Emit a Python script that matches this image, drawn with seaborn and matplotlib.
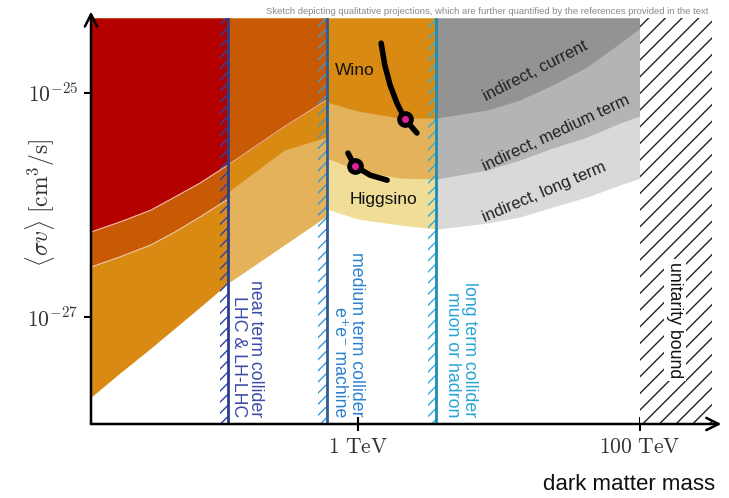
import numpy as np
import pandas as pd
import seaborn as sns
import matplotlib.pyplot as plt

# dark matter mass grid (TeV) for the pieces of the sketch
m_left = [0.0128, 0.0205, 0.034, 0.0504, 0.076, 0.12]
m_mid = [0.12, 0.3, 0.6]
m_ind = [0.6, 1.0, 2.0, 3.6, 8.2, 14, 24, 42, 72, 100]

# <sigma v> boundaries (cm^3/s) left of the near term collider line
left_a = [5.74e-27, 7.05e-27, 9.0e-27, 1.18e-26, 1.57e-26, 2.28e-26]
left_c = [2.79e-27, 3.44e-27, 4.40e-27, 5.74e-27, 7.82e-27, 1.13e-26]
left_d = [1.93e-28, 3.16e-28, 5.28e-28, 7.98e-28, 1.23e-27, 2.01e-27]

# between near term and medium term collider lines
mid_a = [2.28e-26, 5.0e-26, 8.66e-26]
mid_b = [1.31e-26, 3.10e-26, 4.05e-26]
mid_d = [2.01e-27, 4.40e-27, 7.98e-27]

# indirect detection reach
ind_current = [8.31e-26, 6.91e-26, 5.98e-26, 5.98e-26, 7.05e-26, 8.66e-26, 1.18e-25, 1.71e-25, 2.79e-25, 3.80e-25]
ind_medium = [2.63e-26, 2.05e-26, 1.74e-26, 1.71e-26, 2.05e-26, 2.52e-26, 3.23e-26, 4.05e-26, 5.40e-26, 6.24e-26]
ind_long = [9.20e-27, 7.50e-27, 6.63e-27, 6.10e-27, 6.90e-27, 7.82e-27, 9.59e-27, 1.18e-26, 1.51e-26, 1.74e-26]

# wino / higgsino thermal lines
wino_m = [1.46, 1.55, 1.69, 1.89, 2.15, 2.62]
wino_sv = [2.79e-25, 1.78e-25, 1.18e-25, 8.14e-26, 5.86e-26, 4.40e-26]
higgsino_m = [0.85, 0.95, 1.22, 1.61]
higgsino_sv = [2.91e-26, 2.23e-26, 1.85e-26, 1.67e-26]
wino_dot = (2.15, 5.86e-26)
higgsino_dot = (0.95, 2.23e-26)

colliders = [0.12, 0.6, 3.6]
collider_labels = ['near term collider\nLHC & LH-LHC',
                   'medium term collider\ne\u207ae\u207b machine',
                   'long term collider\nmuon or hadron']
unitarity = 100

sns.set_style('white')
plt.rcParams['font.family'] = ['Liberation Sans', 'DejaVu Sans']
plt.rcParams['mathtext.fontset'] = 'cm'
plt.rcParams['hatch.linewidth'] = 1.0

xlo, xhi = 0.0128, 324
ylo, yhi = 1.11e-28, 4.68e-25

fig = plt.figure(figsize=(7.29, 4.98), dpi=100)
ax = fig.add_axes([91/729, 1 - 424/498, 621/729, 406/498])
ax.set_xscale('log')
ax.set_yscale('log')
ax.set_xlim(xlo, xhi)
ax.set_ylim(ylo, yhi)

red, dorange, orange, tan, pale = '#b50000', '#c95a05', '#d98a12', '#e3b25a', '#efdd98'
g1, g2, g3 = '#939393', '#b4b4b4', '#d9d9d9'

# left of near term line
ax.fill_between(m_left, left_d, yhi, color=orange, lw=0)
ax.fill_between(m_left, left_c, yhi, color=dorange, lw=0)
ax.fill_between(m_left, left_a, yhi, color=red, lw=0)
ax.plot(m_left, left_a, color='#eec0a0', lw=0.9)
ax.plot(m_left, left_c, color='#eec8a0', lw=0.9)

# near -> medium
ax.fill_between(m_mid, mid_d, yhi, color=tan, lw=0)
ax.fill_between(m_mid, mid_b, yhi, color=orange, lw=0)
ax.fill_between(m_mid, mid_a, yhi, color=dorange, lw=0)
ax.plot(m_mid, mid_a, color='#e8b090', lw=0.8)

# medium -> long (orange shades) and beyond (gray shades)
m = np.array(m_ind)
for sel, cols in [(m <= 3.6, (pale, tan, orange)), (m >= 3.6, (g3, g2, g1))]:
    ax.fill_between(m, ind_long, yhi, where=sel, color=cols[0], lw=0)
    ax.fill_between(m, ind_medium, yhi, where=sel, color=cols[1], lw=0)
    ax.fill_between(m, ind_current, yhi, where=sel, color=cols[2], lw=0)

# collider reach lines
line_cols = ['#2b3d8e', '#2e5c94', '#1c8db3']
hatch_cols = ['#2e45a0', '#3b9ad4', '#33aed6']
text_cols = ['#3a4aa8', '#2a80d0', '#26a6d6']
text_x = [0.163, 0.849, 5.37]
for x, lc, hc, tc, tx, lab in zip(colliders, line_cols, hatch_cols, text_cols, text_x, collider_labels):
    ax.axvspan(x / 1.15, x, facecolor='none', edgecolor=hc, hatch='///', lw=0)
    ax.axvline(x, color=lc, lw=2)
    ax.text(tx, 1.28e-28, lab, rotation=270, ha='center', va='bottom',
            multialignment='right', color=tc, fontsize=12.8, linespacing=1.0)

# unitarity bound
ax.axvspan(unitarity, xhi, facecolor='white', edgecolor='#222222', hatch='//', lw=0)
ax.text(177, 9.4e-28, 'unitarity bound', rotation=270, ha='center', va='center',
        fontsize=12.8, color='#111111',
        bbox=dict(facecolor='white', edgecolor='none', pad=2))

# wino / higgsino
sns.lineplot(x=wino_m, y=wino_sv, sort=False, estimator=None, color='black', lw=4, ax=ax)
sns.lineplot(x=higgsino_m, y=higgsino_sv, sort=False, estimator=None, color='black', lw=4, ax=ax)
for pt in [wino_dot, higgsino_dot]:
    ax.plot(*pt, 'o', ms=11, color='black', zorder=5)
    ax.plot(*pt, 'o', ms=4, color='#e0209a', zorder=6)
ax.text(0.952, 1.60e-25, 'Wino', ha='center', va='center', fontsize=12.5, color='#111111')
ax.text(1.53, 1.11e-26, 'Higgsino', ha='center', va='center', fontsize=12.5, color='#111111')

# indirect labels
ax.text(18.0, 1.57e-25, 'indirect, current', rotation=27, ha='center', va='center', fontsize=12, color='#222222')
ax.text(25.4, 4.40e-26, 'indirect, medium term', rotation=25, ha='center', va='center', fontsize=12, color='#222222')
ax.text(20.9, 1.31e-26, 'indirect, long term', rotation=23, ha='center', va='center', fontsize=12, color='#222222')

# axes with arrows
for s in ax.spines.values():
    s.set_visible(False)
arrow = dict(arrowstyle='->', lw=1.8, color='black', mutation_scale=22, shrinkA=0, shrinkB=0)
ax.annotate('', xy=(0, 1.016), xytext=(0, 0), xycoords='axes fraction', arrowprops=arrow, annotation_clip=False)
ax.annotate('', xy=(1.015, 0), xytext=(0, 0), xycoords='axes fraction', arrowprops=arrow, annotation_clip=False)

ax.set_xticks([1, 100])
ax.set_xticklabels([r'$1\ \mathrm{TeV}$', r'$100\ \mathrm{TeV}$'])
ax.set_yticks([1e-25, 1e-27])
ax.set_yticklabels([r'$10^{-25}$', r'$10^{-27}$'])
ax.minorticks_off()
ax.tick_params(bottom=True, left=True, direction='inout', length=10, width=1.5,
               labelsize=15.5, labelcolor='#333333', color='black')
ax.tick_params(axis='x', pad=4)
ax.tick_params(axis='y', pad=4)

fig.text(40/729, 1 - 203/498, r'$\langle\sigma v\rangle\ [\mathrm{cm}^3/\mathrm{s}]$', rotation=90,
         ha='center', va='center', fontsize=17, color='#333333')
fig.text(715/729, 1 - 484/498, 'dark matter mass', ha='right', va='center', fontsize=16, color='#111111')
fig.text(708/729, 1 - 11/498,
         'Sketch depicting qualitative projections, which are further quantified by the references provided in the text',
         ha='right', va='center', fontsize=6.8, color='#8a8a8a')

fig.savefig('out.png', dpi=100)
